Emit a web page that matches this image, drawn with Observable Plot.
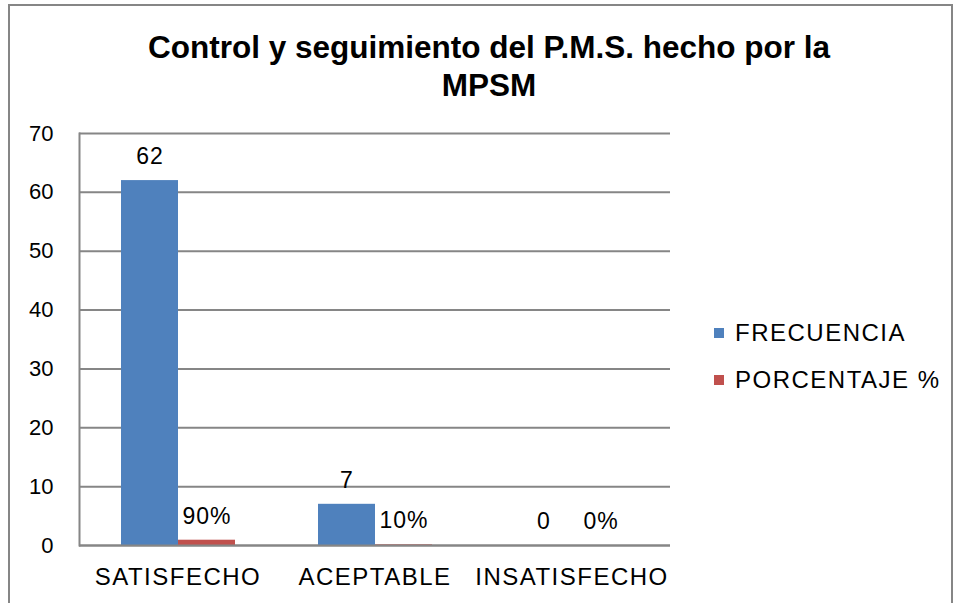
<!DOCTYPE html>
<html>
<head>
<meta charset="utf-8">
<script src="https://cdn.jsdelivr.net/npm/d3@7"></script>
<script src="https://cdn.jsdelivr.net/npm/@observablehq/plot@0.6"></script>
<style>
  html, body { margin: 0; padding: 0; background: #fff; }
  body { width: 958px; height: 603px; position: relative; overflow: hidden; font-family: "Liberation Sans", Arial, sans-serif; color: #000; }
  #border { position: absolute; left: 8px; top: 4px; width: 945px; height: 640px; border: 2px solid #868686; box-sizing: border-box; }
  #title { position: absolute; left: 110px; width: 758px; top: 28px; text-align: center; font-weight: bold; font-size: 31.5px; line-height: 38px; }
  #chart { position: absolute; left: 0; top: 110px; }
  #legend { position: absolute; left: 714px; top: 318px; font-size: 24px; letter-spacing: 1.5px; }
  .item { display: flex; align-items: center; height: 30px; margin-bottom: 17px; }
  .sw { width: 10px; height: 10px; margin-right: 11px; }
  g[aria-label="fx-axis tick label"] text { letter-spacing: 1.5px; }
  g[aria-label="text"] text { letter-spacing: 1px; }
</style>
</head>
<body>
<div id="border"></div>
<div id="title">Control y seguimiento del P.M.S. hecho por la MPSM</div>
<div id="chart"></div>
<div id="legend"></div>
<script>
const categories = ["SATISFECHO", "ACEPTABLE", "INSATISFECHO"];
const series = ["FRECUENCIA", "PORCENTAJE %"];
const frecuencia = [62, 7, 0];
const porcentaje = [0.9, 0.1, 0];
const yTicks = [0, 10, 20, 30, 40, 50, 60, 70];
const colors = ["#4F81BD", "#C0504D"];

const data = categories.flatMap((c, i) => [
  {cat: c, serie: series[0], value: frecuencia[i], label: String(frecuencia[i])},
  {cat: c, serie: series[1], value: porcentaje[i], label: d3.format(".0%")(porcentaje[i])}
]);

const chart = Plot.plot({
  width: 958,
  height: 493,
  marginTop: 23,
  marginBottom: 58,
  marginLeft: 79,
  marginRight: 288,
  style: {fontFamily: "'Liberation Sans', Arial, sans-serif", fontSize: "20px", color: "#000", background: "transparent", overflow: "visible"},
  fx: {domain: categories, padding: 0, label: null},
  x: {domain: series, paddingInner: 0, paddingOuter: 0.72, axis: null},
  y: {domain: [0, 70], ticks: yTicks, label: null},
  color: {domain: series, range: colors},
  marks: [
    Plot.gridY(yTicks, {stroke: "#868686", strokeOpacity: 1, strokeWidth: 2}),
    Plot.barY(data, {fx: "cat", x: "serie", y: "value", fill: "serie"}),
    Plot.text(data, {fx: "cat", x: "serie", y: "value", text: "label", dy: -24, fontSize: 23, fill: "#000"}),
    Plot.ruleY([0], {stroke: "#868686", strokeWidth: 2}),
    Plot.axisY(yTicks, {tickSize: 0, tickPadding: 26, fontSize: 22, label: null}),
    Plot.axisFx({anchor: "bottom", tickSize: 0, tickPadding: 22, fontSize: 24, label: null}),
    Plot.frame({anchor: "left", stroke: "#868686", strokeWidth: 2, facetAnchor: "left"})
  ]
});
document.getElementById("chart").appendChild(chart);

const legend = document.getElementById("legend");
series.forEach((s, i) => {
  const item = document.createElement("div");
  item.className = "item";
  const sw = document.createElement("span");
  sw.className = "sw";
  sw.style.background = colors[i];
  const t = document.createElement("span");
  t.textContent = s;
  item.appendChild(sw);
  item.appendChild(t);
  legend.appendChild(item);
});
</script>
</body>
</html>
